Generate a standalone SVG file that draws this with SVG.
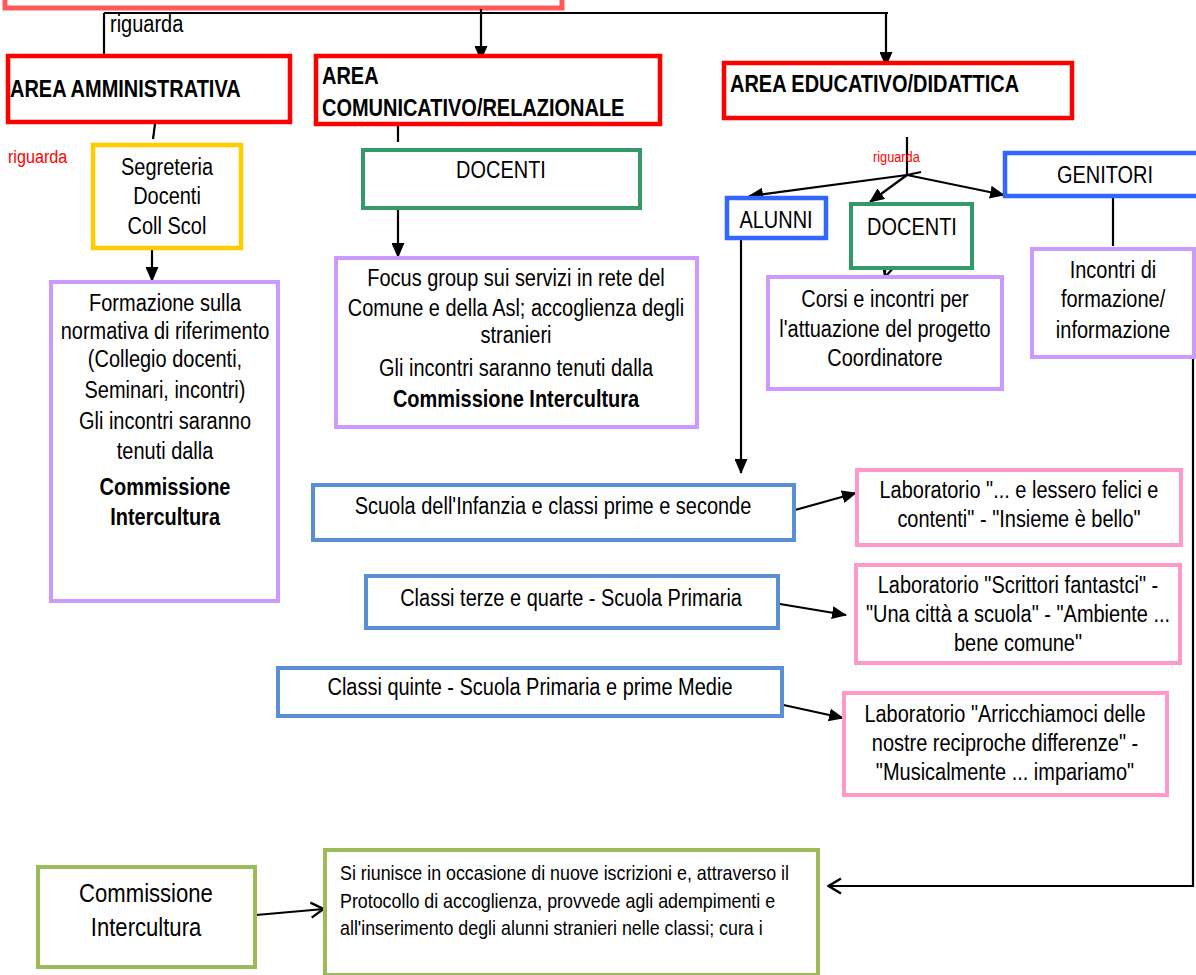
<svg xmlns="http://www.w3.org/2000/svg" width="1196" height="975" viewBox="0 0 1196 975">
<defs>
<style>
text{font-family:"Liberation Sans",Arial,sans-serif;fill:#000;transform-box:fill-box;transform-origin:left center;transform:scaleX(0.85)}
.t{font-size:23.5px}
.c{text-anchor:middle;transform-origin:center}
.b{font-weight:bold}
.red{stroke:#ff0000;stroke-width:4.5;fill:#fff}
.pur{stroke:#cc99ff;stroke-width:4;fill:#fff}
.grn{stroke:#339966;stroke-width:4;fill:#fff}
.blu{stroke:#3366ff;stroke-width:4.5;fill:#fff}
.sb{stroke:#5b8fd5;stroke-width:4;fill:#fff}
.pk{stroke:#ff99cc;stroke-width:4;fill:#fff}
.ol{stroke:#9bbb59;stroke-width:4;fill:#fff}
.yl{stroke:#ffcc00;stroke-width:4.5;fill:#fff}
.ln{stroke:#000;stroke-width:2.2;fill:none}
.rg{fill:#ff0000}
</style>
<marker id="ah" markerWidth="15" markerHeight="13" refX="14" refY="6.5" orient="auto" markerUnits="userSpaceOnUse" viewBox="0 0 15 13">
<path d="M0,0 L15,6.5 L0,13 z" fill="#000"/>
</marker>
<marker id="av" markerWidth="16" markerHeight="18" refX="15" refY="9" orient="auto" markerUnits="userSpaceOnUse" viewBox="0 0 16 18">
<path d="M2,1.5 L14.5,9 L2,16.5" fill="none" stroke="#000" stroke-width="2.4"/>
</marker>
</defs>
<rect width="1196" height="975" fill="#fff"/>

<g id="top">
<rect x="5" y="-50" width="557" height="58" fill="#fff" stroke="#ff5a5a" stroke-width="5"/>
</g>

<g id="connectors">
<path class="ln" d="M104,13 H888"/>
<path class="ln" d="M104,13 V72"/>
<path class="ln" d="M481,9 V60" marker-end="url(#ah)"/>
<path class="ln" d="M886,13 V66" marker-end="url(#ah)"/>
<path class="ln" d="M155,124 L153,139"/>
<path class="ln" d="M398,124 V142"/>
<path class="ln" d="M152,230 V281" marker-end="url(#ah)"/>
<path class="ln" d="M398,208 V257" marker-end="url(#ah)"/>
<path class="ln" d="M907,137 V175 L921,172"/>
<path class="ln" d="M907,175 L749,196" marker-end="url(#ah)"/>
<path class="ln" d="M907,175 L870,202" marker-end="url(#ah)"/>
<path class="ln" d="M907,175 L1004,195" marker-end="url(#ah)"/>
<path class="ln" d="M883,262 L885,277 L896,265"/>
<path class="ln" d="M885,268 V276"/>
<path class="ln" d="M1113,198 V246"/>
<path class="ln" d="M741,238 V473" marker-end="url(#ah)"/>
<path class="ln" d="M795,510 L856,493" marker-end="url(#ah)"/>
<path class="ln" d="M780,604 L846,615" marker-end="url(#ah)"/>
<path class="ln" d="M779,704 L843,718" marker-end="url(#ah)"/>
<path class="ln" d="M1193,357 V886 H828" marker-end="url(#av)"/>
<path class="ln" d="M256,915 L324,909" marker-end="url(#av)"/>
<text x="110" y="32" class="t">riguarda</text>
<text x="8" y="163" class="rg" font-size="19">riguarda</text>
<text x="873" y="162" class="rg" font-size="15">riguarda</text>
</g>

<g id="area-amm">
<rect class="red" x="8" y="56" width="282" height="66"/>
<text x="10" y="97" class="t b">AREA AMMINISTRATIVA</text>
</g>
<g id="area-com">
<rect class="red" x="316" y="56" width="344" height="68"/>
<text x="322" y="84" class="t b">AREA</text>
<text x="322" y="116" class="t b">COMUNICATIVO/RELAZIONALE</text>
</g>
<g id="area-edu">
<rect class="red" x="724" y="63" width="348" height="55"/>
<text x="730" y="92" class="t b">AREA EDUCATIVO/DIDATTICA</text>
</g>

<g id="segreteria">
<rect class="yl" x="93" y="145" width="148" height="103"/>
<text x="167" y="175" class="t c">Segreteria</text>
<text x="167" y="204" class="t c">Docenti</text>
<text x="167" y="234" class="t c">Coll Scol</text>
</g>

<g id="formazione">
<rect class="pur" x="51" y="282" width="227" height="319"/>
<text x="165" y="311" class="t c">Formazione sulla</text>
<text x="165" y="339" class="t c">normativa di riferimento</text>
<text x="165" y="367" class="t c">(Collegio docenti,</text>
<text x="165" y="398" class="t c">Seminari, incontri)</text>
<text x="165" y="429" class="t c">Gli incontri saranno</text>
<text x="165" y="459" class="t c">tenuti dalla</text>
<text x="165" y="495" class="t c b">Commissione</text>
<text x="165" y="525" class="t c b">Intercultura</text>
</g>

<g id="docenti-com">
<rect class="grn" x="363" y="150" width="277" height="58"/>
<text x="501" y="178" class="t c">DOCENTI</text>
</g>

<g id="focus">
<rect class="pur" x="336" y="258" width="361" height="169"/>
<text x="516" y="286" class="t c">Focus group sui servizi in rete del</text>
<text x="516" y="316" class="t c">Comune e della Asl; accoglienza degli</text>
<text x="516" y="343" class="t c">stranieri</text>
<text x="516" y="376" class="t c">Gli incontri saranno tenuti dalla</text>
<text x="516" y="407" class="t c b">Commissione Intercultura</text>
</g>

<g id="genitori">
<rect class="blu" x="1005" y="153" width="200" height="43"/>
<text x="1105" y="183" class="t c">GENITORI</text>
</g>
<g id="alunni">
<rect class="blu" x="727" y="198" width="99" height="40"/>
<text x="776" y="228" class="t c">ALUNNI</text>
</g>
<g id="docenti-edu">
<rect class="grn" x="851" y="204" width="121" height="64"/>
<text x="912" y="235" class="t c">DOCENTI</text>
</g>
<g id="corsi">
<rect class="pur" x="768" y="277" width="234" height="112"/>
<text x="885" y="307" class="t c">Corsi e incontri per</text>
<text x="885" y="337" class="t c">l'attuazione del progetto</text>
<text x="885" y="366" class="t c">Coordinatore</text>
</g>
<g id="incontri">
<rect class="pur" x="1032" y="249" width="162" height="108"/>
<text x="1113" y="278" class="t c">Incontri di</text>
<text x="1113" y="307" class="t c">formazione/</text>
<text x="1113" y="338" class="t c">informazione</text>
</g>

<g id="infanzia">
<rect class="sb" x="313" y="485" width="481" height="55"/>
<text x="553" y="514" class="t c">Scuola dell'Infanzia e classi prime e seconde</text>
</g>
<g id="terze">
<rect class="sb" x="366" y="576" width="412" height="52"/>
<text x="571" y="606" class="t c">Classi terze e quarte - Scuola Primaria</text>
</g>
<g id="quinte">
<rect class="sb" x="278" y="668" width="504" height="48"/>
<text x="530" y="695" class="t c">Classi quinte - Scuola Primaria e prime Medie</text>
</g>

<g id="lab1">
<rect class="pk" x="857" y="470" width="324" height="75"/>
<text x="1019" y="498" class="t c">Laboratorio "... e lessero felici e</text>
<text x="1019" y="527" class="t c">contenti" - "Insieme è bello"</text>
</g>
<g id="lab2">
<rect class="pk" x="856" y="565" width="324" height="98"/>
<text x="1018" y="593" class="t c">Laboratorio "Scrittori fantastci" -</text>
<text x="1018" y="622" class="t c">"Una città a scuola" - "Ambiente ...</text>
<text x="1018" y="651" class="t c">bene comune"</text>
</g>
<g id="lab3">
<rect class="pk" x="844" y="693" width="323" height="102"/>
<text x="1005" y="722" class="t c">Laboratorio "Arricchiamoci delle</text>
<text x="1005" y="751" class="t c">nostre reciproche differenze" -</text>
<text x="1005" y="780" class="t c">"Musicalmente ... impariamo"</text>
</g>

<g id="commissione">
<rect class="ol" x="38" y="867" width="217" height="100"/>
<text x="146" y="902" class="c" font-size="26">Commissione</text>
<text x="146" y="936" class="c" font-size="26">Intercultura</text>
</g>
<g id="riunisce">
<rect class="ol" x="325" y="850" width="493" height="125"/>
<text x="340" y="880" font-size="21">Si riunisce in occasione di nuove iscrizioni e, attraverso il</text>
<text x="340" y="908" font-size="21">Protocollo di accoglienza, provvede agli adempimenti e</text>
<text x="340" y="935" font-size="21">all'inserimento degli alunni stranieri nelle classi; cura i</text>
</g>
</svg>
